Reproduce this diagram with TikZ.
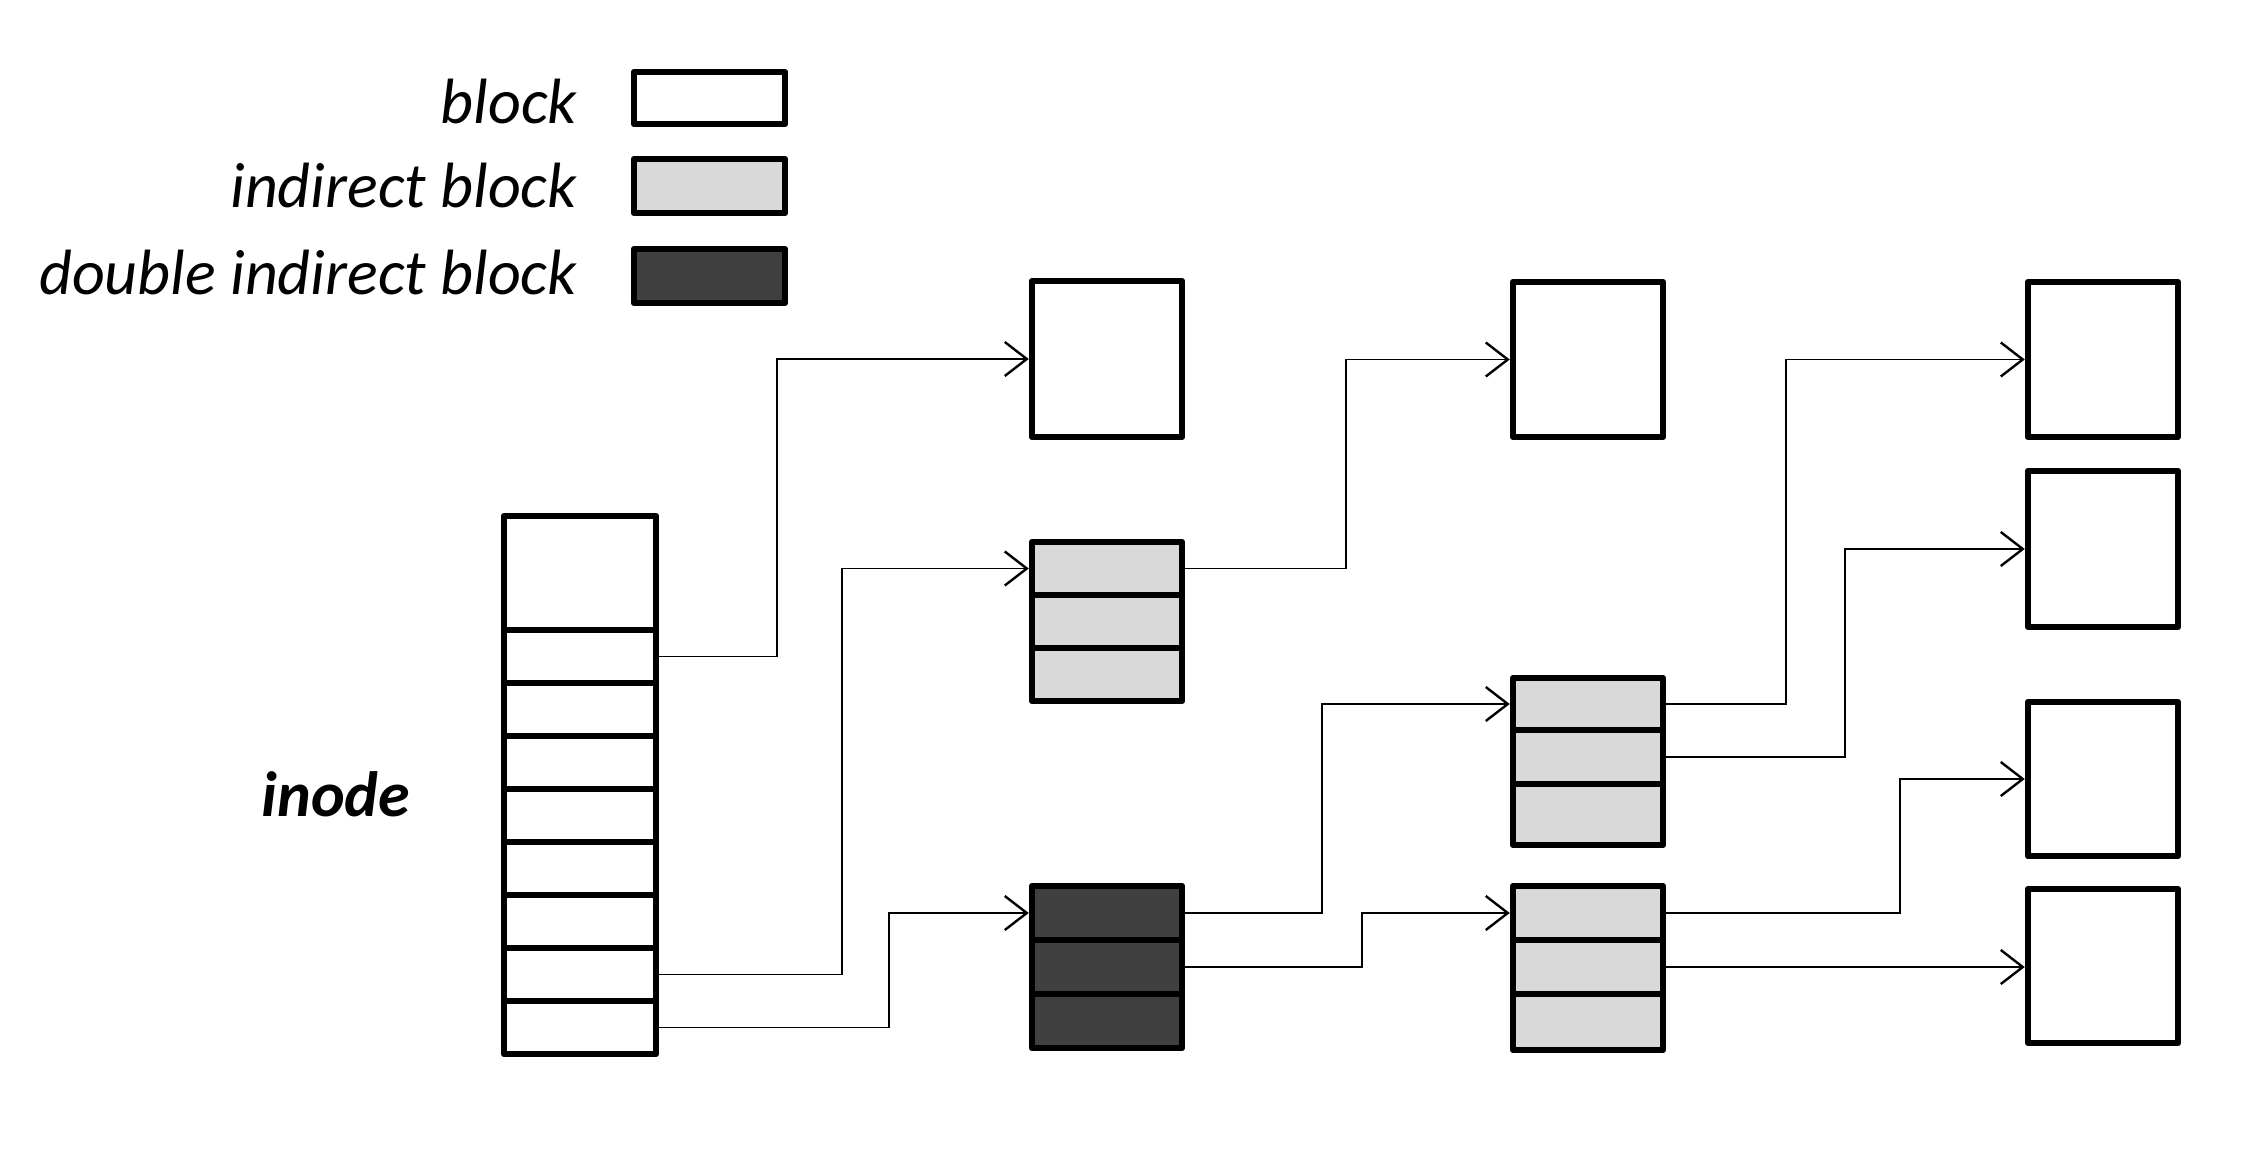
\documentclass[tikz,border=0pt]{standalone}
\usepackage{fontspec}
\setmainfont{Carlito}
\usetikzlibrary{arrows.meta,calc}
\definecolor{lightfill}{RGB}{217,217,217}
\definecolor{darkfill}{RGB}{64,64,64}
\newcommand\bx[6]{\node[#6, minimum width={#4pt-#2pt}, minimum height={#5pt-#3pt}] (#1) at ({(#2+#4)/2},{(#3+#5)/2}) {};}
\begin{document}
\begin{tikzpicture}[x=1pt,y=-1pt,
  blk/.style={draw=black, line width=6.5pt, line join=round, inner sep=0pt, fill=white},
  ind/.style={blk, fill=lightfill},
  dbl/.style={blk, fill=darkfill},
  conn/.style={draw=black, line width=1.6pt, -{Straight Barb[length=22pt,width=34pt,line width=2.4pt]}},
  lbl/.style={anchor=base east, inner sep=0pt, font=\itshape\fontsize{64}{72}\selectfont}]
\useasboundingbox (0,0) rectangle (2260,1150);
% legend
\node[lbl] (l1) at (577,124) {block};
\node[lbl] (l2) at (577,208) {indirect block};
\node[lbl] (l3) at (577,295) {double indirect block};
\bx{lg1}{634}{72}{785}{124}{blk}
\bx{lg2}{634}{159}{785}{213}{ind}
\bx{lg3}{634}{249}{785}{303}{dbl}
% inode
\node[inner sep=0pt, font=\bfseries\itshape\fontsize{64}{72}\selectfont] (inodelbl) at (336,794) {inode};
\bx{in0}{504}{516}{656}{630}{blk}
\bx{in1}{504}{630}{656}{683}{blk}
\bx{in2}{504}{683}{656}{736}{blk}
\bx{in3}{504}{736}{656}{789}{blk}
\bx{in4}{504}{789}{656}{842}{blk}
\bx{in5}{504}{842}{656}{895}{blk}
\bx{in6}{504}{895}{656}{948}{blk}
\bx{in7}{504}{948}{656}{1001}{blk}
\bx{in8}{504}{1001}{656}{1054}{blk}
% column 2
\bx{A}{1032}{281}{1182}{437}{blk}
\bx{ia}{1032}{542}{1182}{595}{ind}
\bx{ib}{1032}{595}{1182}{648}{ind}
\bx{ic}{1032}{648}{1182}{701}{ind}
\bx{da}{1032}{886}{1182}{940}{dbl}
\bx{db}{1032}{940}{1182}{994}{dbl}
\bx{dc}{1032}{994}{1182}{1048}{dbl}
% column 3
\bx{B}{1513}{282}{1663}{437}{blk}
\bx{jc}{1513}{784}{1663}{845}{ind}
\bx{jb}{1513}{730}{1663}{784}{ind}
\bx{ja}{1513}{678}{1663}{730}{ind}
\bx{kc}{1513}{994}{1663}{1050}{ind}
\bx{kb}{1513}{940}{1663}{994}{ind}
\bx{ka}{1513}{886}{1663}{940}{ind}
% column 4
\bx{C1}{2028}{282}{2178}{437}{blk}
\bx{C2}{2028}{471}{2178}{627}{blk}
\bx{C3}{2028}{702}{2178}{856}{blk}
\bx{C4}{2028}{889}{2178}{1043}{blk}
% turn points
\coordinate (t1) at (777,0);
\coordinate (t2) at (842,0);
\coordinate (t3) at (889,0);
\coordinate (t4) at (1346,0);
\coordinate (t5) at (1322,0);
\coordinate (t6) at (1362,0);
\coordinate (t7) at (1786,0);
\coordinate (t8) at (1845,0);
\coordinate (t9) at (1900,0);
% connectors
\draw[conn] (in1.east) -| (t1 |- A.west) -- (A.west);
\draw[conn] (in7.east) -| (t2 |- ia.west) -- (ia.west);
\draw[conn] (in8.east) -| (t3 |- da.west) -- (da.west);
\draw[conn] (ia.east) -| (t4 |- B.west) -- (B.west);
\draw[conn] (da.east) -| (t5 |- ja.west) -- (ja.west);
\draw[conn] (db.east) -| (t6 |- ka.west) -- (ka.west);
\draw[conn] (ja.east) -| (t7 |- C1.west) -- (C1.west);
\draw[conn] (jb.east) -| (t8 |- C2.west) -- (C2.west);
\draw[conn] (ka.east) -| (t9 |- C3.west) -- (C3.west);
\draw[conn] (kb.east) -- (kb.east -| C4.west);
\end{tikzpicture}
\end{document}
